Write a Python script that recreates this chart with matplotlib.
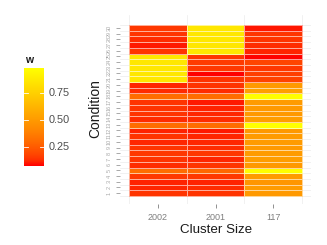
import numpy as np
import matplotlib.pyplot as plt
from matplotlib.colors import LinearSegmentedColormap

plt.rcParams['font.family'] = ['Liberation Sans', 'DejaVu Sans']

clusters = ['2002', '2001', '117']
conditions = list(range(1, 31))

# w per condition (1..30), one list per cluster size
w_2002 = [0.135, 0.12, 0.115, 0.145, 0.31, 0.125, 0.135, 0.145, 0.135, 0.12,
          0.135, 0.115, 0.31, 0.125, 0.135, 0.135, 0.135, 0.31, 0.125, 0.12,
          0.86, 0.86, 0.86, 0.86, 0.86, 0.135, 0.105, 0.125, 0.135, 0.145]
w_2001 = [0.135, 0.125, 0.115, 0.145, 0.29, 0.135, 0.12, 0.145, 0.125, 0.12,
          0.12, 0.105, 0.31, 0.125, 0.12, 0.115, 0.105, 0.31, 0.125, 0.135,
          0.135, 0.076, 0.145, 0.155, 0.135, 0.86, 0.86, 0.86, 0.86, 0.86]
w_117 = [0.49, 0.50, 0.48, 0.50, 0.98, 0.49, 0.51, 0.50, 0.49, 0.50,
         0.50, 0.49, 0.98, 0.51, 0.49, 0.49, 0.50, 0.98, 0.52, 0.49,
         0.17, 0.16, 0.145, 0.18, 0.074, 0.115, 0.125, 0.135, 0.135, 0.10]

w_lo, w_hi = 0.074, 0.98

# red -> yellow, green channel sampled along a Lab path (like ggplot's gradient)
stops = [0, 0.0625, 0.125, 0.25, 0.375, 0.5, 0.75, 0.875, 1]
greens = [0, 50, 73, 107, 136, 161, 209, 232, 255]
cmap = LinearSegmentedColormap.from_list(
    'redyellow', [(s, (1, g / 255, 0)) for s, g in zip(stops, greens)])

W, H = 327, 245
fig = plt.figure(figsize=(W / 100, H / 100), dpi=100)


def px(l, t, r, b):
    return [l / W, 1 - b / H, (r - l) / W, (b - t) / H]


ax = fig.add_axes(px(120, 15.5, 311, 204))
Z = np.array([w_2002, w_2001, w_117]).T
xe = np.arange(len(clusters) + 1) - 0.5
ye = np.arange(len(conditions) + 1) + 0.5
ax.pcolormesh(xe, ye, Z, cmap=cmap, vmin=w_lo, vmax=w_hi,
              edgecolors=(1, 1, 1, 0.6), linewidth=0.6, zorder=2)
ax.set_xlim(-0.656, 2.656)
ax.set_ylim(-0.9, 32.17)

ax.set_xticks(range(len(clusters)))
ax.set_xticklabels(clusters)
ax.set_yticks(conditions)
ax.set_yticklabels([str(c) for c in conditions], rotation=90, va='center')
ax.set_xticks(xe, minor=True)
ax.set_yticks(ye, minor=True)
ax.grid(which='minor', color='#EBEBEB', lw=0.5, zorder=0)
ax.tick_params(which='minor', length=0)
ax.tick_params(axis='x', length=3, width=0.6, color='#7F7F7F',
               labelcolor='#7F7F7F', labelsize=6.5, pad=3.5)
ax.tick_params(axis='y', length=3, width=0.6, color='#9A9A9A',
               labelcolor='#A8A8A8', labelsize=4.0, pad=3)
for s in ax.spines.values():
    s.set_visible(False)

fig.text(216 / W, 1 - 229.5 / H, 'Cluster Size', ha='center', va='center',
         fontsize=9.6, color='#1A1A1A')
fig.text(95 / W, 1 - 109 / H, 'Condition', ha='center', va='center',
         rotation=90, fontsize=10, color='#1A1A1A')

# legend colourbar
cax = fig.add_axes(px(24, 68, 44, 166))
grad = np.linspace(w_lo, w_hi, 300).reshape(-1, 1)
cax.imshow(grad, cmap=cmap, vmin=w_lo, vmax=w_hi, aspect='auto',
           origin='lower', extent=[0, 1, w_lo, w_hi])
cax.set_xlim(0, 1)
cax.set_ylim(w_lo, w_hi)
cax.set_xticks([])
cax.set_yticks([])
for s in cax.spines.values():
    s.set_visible(False)
for v in [0.25, 0.50, 0.75]:
    cax.plot([0, 0.2], [v, v], color='white', lw=0.6)
    cax.plot([0.8, 1], [v, v], color='white', lw=0.6)
    cax.text(1.25, v, f'{v:.2f}', transform=cax.get_yaxis_transform(),
             ha='left', va='center', fontsize=7.8, color='#4D4D4D')
fig.text(25 / W, 1 - 60 / H, 'w', ha='left', va='center', fontsize=7.5,
         fontweight='bold', color='#1A1A1A')

fig.savefig('out.png', dpi=100)
